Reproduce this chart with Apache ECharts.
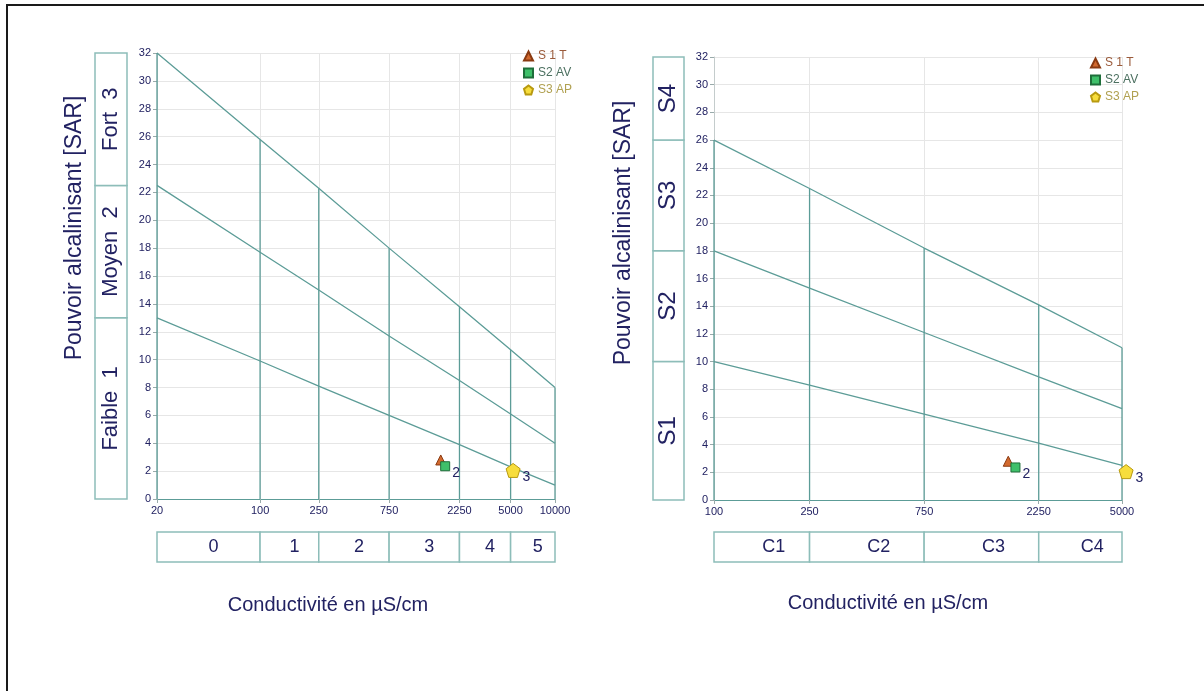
<!DOCTYPE html>
<html><head><meta charset="utf-8">
<script src="https://cdn.jsdelivr.net/npm/echarts@6/dist/echarts.min.js"></script>
<style>html,body{margin:0;padding:0;background:#fff}#c{width:1204px;height:691px}</style>
</head><body><div id="c"></div>
<script>
// ---------- data ----------
const seriesNames = ['S 1 T', 'S2 AV', 'S3 AP'];
const sampleCond = [1680, 1800, 5200];
const sampleSAR = [2.8, 2.35, 2.05];
const sampleTags = ['', '2', '3'];

// Left diagram
const leftTicks = [20, 100, 250, 750, 2250, 5000, 10000];
const leftLineTop = [32, 25.8, 22.3, 18.0, 13.8, 10.7, 8];
const leftLineMid = [22.5, 17.7, 15.0, 11.7, 8.5, 6.1, 4];
const leftLineLow = [13, 9.9, 8.1, 6.0, 3.9, 2.3, 1];
const leftSideBreaks = [0, 13, 22.5, 32];
const leftSideLabels = ['Faible  1', 'Moyen  2', 'Fort  3'];
const leftBottomLabels = ['0', '1', '2', '3', '4', '5'];

// Right diagram
const rightTicks = [100, 250, 750, 2250, 5000];
const rightLineTop = [26, 22.5, 18.2, 14.1, 11];
const rightLineMid = [18, 15.3, 12.1, 8.9, 6.6];
const rightLineLow = [10, 8.3, 6.2, 4.1, 2.5];
const rightSideBreaks = [0, 10, 18, 26, 32];
const rightSideLabels = ['S1', 'S2', 'S3', 'S4'];
const rightBottomLabels = ['C1', 'C2', 'C3', 'C4'];

const yTitle = 'Pouvoir alcalinisant [SAR]';
const xTitle = 'Conductivité en µS/cm';

// ---------- styles ----------
const L = Math.log10;
const FONT = '"Liberation Sans", Arial, sans-serif';
const TEAL = '#5c9c97';
const BOX = '#8dbdb9';
const NAVY = '#222262';
const GRID = '#e6e6e6';
const markStyles = [
  { symbol: 'triangle', size: 10, color: '#d2692e', border: '#8a3a12', text: '#9a5a3a' },
  { symbol: 'rect', size: 9, color: '#3fc06a', border: '#1e6e3a', text: '#4c7060' },
  { symbol: 'path://M50,0 L100,38 L81,100 L19,100 L0,38 Z', size: 14, color: '#f7dd3c', border: '#b89a10', text: '#b0a050' }
];

const grids = [];
const xAxes = [];
const yAxes = [];
const series = [];
const graphics = [];

function buildDiagram(cfg) {
  const gi = grids.length;
  grids.push({ left: cfg.left, width: cfg.width, top: cfg.top, height: cfg.height });
  grids.push({ left: cfg.sideLeft, width: cfg.sideWidth, top: cfg.top, height: cfg.height });
  grids.push({ left: cfg.left, width: cfg.width, top: cfg.bottomTop, height: cfg.bottomHeight });
  const lv = cfg.ticks.map(L);
  const xmin = lv[0], xmax = lv[lv.length - 1];
  const xi = xAxes.length, yi = yAxes.length;
  xAxes.push({
    gridIndex: gi, type: 'value', min: xmin, max: xmax,
    axisLine: { show: true, lineStyle: { color: TEAL, width: 1.2 } },
    axisTick: { show: true, customValues: lv, length: 4, lineStyle: { color: '#9aa' } },
    axisLabel: { customValues: lv, formatter: v => String(Math.round(Math.pow(10, v))), fontSize: 11, color: NAVY, fontFamily: FONT, margin: 6 },
    splitLine: { show: true, lineStyle: { color: GRID } }
  });
  yAxes.push({
    gridIndex: gi, type: 'value', min: 0, max: 32, interval: 2,
    axisLine: { show: true, lineStyle: { color: '#c4cccc' } },
    axisTick: { show: true, length: 4, lineStyle: { color: '#9aa' } },
    axisLabel: { fontSize: 11, color: NAVY, fontFamily: FONT, margin: 6 },
    splitLine: { show: true, lineStyle: { color: GRID } }
  });
  xAxes.push({ gridIndex: gi + 1, type: 'value', min: 0, max: 1, show: false });
  yAxes.push({ gridIndex: gi + 1, type: 'value', min: 0, max: 32, show: false });
  xAxes.push({ gridIndex: gi + 2, type: 'value', min: xmin, max: xmax, show: false });
  yAxes.push({ gridIndex: gi + 2, type: 'value', min: 0, max: 1, show: false });

  // axis titles
  graphics.push({ type: 'text', x: cfg.yTitlePos[0], y: cfg.yTitlePos[1], rotation: Math.PI / 2,
    style: { text: yTitle, fill: NAVY, fontSize: 23, fontFamily: FONT, align: 'center', verticalAlign: 'middle' } });
  graphics.push({ type: 'text', x: cfg.xTitlePos[0], y: cfg.xTitlePos[1],
    style: { text: xTitle, fill: NAVY, fontSize: 20, fontFamily: FONT, align: 'center', verticalAlign: 'middle' } });

  // diagonal lines
  [cfg.top3, cfg.mid3, cfg.low3].forEach(arr => {
    series.push({
      type: 'line', xAxisIndex: xi, yAxisIndex: yi, silent: true, symbol: 'none', z: 3,
      data: cfg.ticks.map((t, i) => [L(t), arr[i]]),
      lineStyle: { color: TEAL, width: 1.3 }
    });
  });
  // vertical class boundaries
  series.push({
    type: 'custom', xAxisIndex: xi, yAxisIndex: yi, silent: true, z: 3,
    data: cfg.ticks.map((t, i) => [L(t), cfg.top3[i]]),
    renderItem: (p, api) => {
      const a = api.coord([api.value(0), 0]);
      const b = api.coord([api.value(0), api.value(1)]);
      return { type: 'line', shape: { x1: a[0], y1: a[1], x2: b[0], y2: b[1] }, style: { stroke: TEAL, lineWidth: 1.3 } };
    }
  });
  // side boxes
  const sideData = cfg.sideLabels.map((s, i) => [cfg.sideBreaks[i], cfg.sideBreaks[i + 1]]);
  series.push({
    type: 'custom', xAxisIndex: xi + 1, yAxisIndex: yi + 1, silent: true,
    data: sideData,
    renderItem: (p, api) => {
      const p0 = api.coord([0, api.value(1)]);
      const p1 = api.coord([1, api.value(0)]);
      return { type: 'group', children: [
        { type: 'rect', shape: { x: p0[0], y: p0[1], width: p1[0] - p0[0], height: p1[1] - p0[1] }, style: { fill: '#fff', stroke: BOX, lineWidth: 1.5 } },
        { type: 'text', x: (p0[0] + p1[0]) / 2, y: (p0[1] + p1[1]) / 2, rotation: Math.PI / 2,
          style: { text: cfg.sideLabels[p.dataIndex], fill: NAVY, fontSize: cfg.sideFont, fontFamily: FONT, align: 'center', verticalAlign: 'middle' } }
      ] };
    }
  });
  // bottom boxes
  const botData = cfg.bottomLabels.map((s, i) => [L(cfg.ticks[i]), L(cfg.ticks[i + 1])]);
  series.push({
    type: 'custom', xAxisIndex: xi + 2, yAxisIndex: yi + 2, silent: true,
    data: botData,
    renderItem: (p, api) => {
      const p0 = api.coord([api.value(0), 1]);
      const p1 = api.coord([api.value(1), 0]);
      return { type: 'group', children: [
        { type: 'rect', shape: { x: p0[0], y: p0[1], width: p1[0] - p0[0], height: p1[1] - p0[1] }, style: { fill: '#fff', stroke: BOX, lineWidth: 1.5 } },
        { type: 'text', x: (p0[0] + p1[0]) / 2 + cfg.bottomShift, y: (p0[1] + p1[1]) / 2,
          style: { text: cfg.bottomLabels[p.dataIndex], fill: NAVY, fontSize: 18, fontFamily: FONT, align: 'center', verticalAlign: 'middle' } }
      ] };
    }
  });
  // samples
  seriesNames.forEach((n, k) => {
    const m = markStyles[k];
    series.push({
      type: 'scatter', name: n, xAxisIndex: xi, yAxisIndex: yi, z: 10, clip: false,
      data: [[L(sampleCond[k]), sampleSAR[k]]],
      symbol: m.symbol, symbolSize: m.size,
      itemStyle: { color: m.color, borderColor: m.border, borderWidth: 1, opacity: 1 },
      label: { show: sampleTags[k] !== '', formatter: sampleTags[k], position: 'right', offset: [-3, 7], color: NAVY, fontSize: 14, fontFamily: FONT }
    });
  });
}

buildDiagram({
  left: 157, width: 398, top: 53, height: 446,
  sideLeft: 95, sideWidth: 32, bottomTop: 532, bottomHeight: 30,
  ticks: leftTicks, top3: leftLineTop, mid3: leftLineMid, low3: leftLineLow,
  sideBreaks: leftSideBreaks, sideLabels: leftSideLabels, sideFont: 22,
  bottomLabels: leftBottomLabels, bottomShift: 5,
  yTitlePos: [75, 228], xTitlePos: [328, 605]
});
buildDiagram({
  left: 714, width: 408, top: 57, height: 443,
  sideLeft: 653, sideWidth: 31, bottomTop: 532, bottomHeight: 30,
  ticks: rightTicks, top3: rightLineTop, mid3: rightLineMid, low3: rightLineLow,
  sideBreaks: rightSideBreaks, sideLabels: rightSideLabels, sideFont: 24,
  bottomLabels: rightBottomLabels, bottomShift: 12,
  yTitlePos: [624, 233], xTitlePos: [888, 603]
});

const legendData = seriesNames.map((n, k) => ({ name: n, textStyle: { color: markStyles[k].text } }));
const legendBase = { orient: 'vertical', itemGap: 5, itemWidth: 9, itemHeight: 9, data: legendData,
  textStyle: { fontSize: 12, fontFamily: FONT }, selectedMode: false };

graphics.push({ type: 'line', shape: { x1: 6, y1: 5, x2: 1204, y2: 5 }, style: { stroke: '#1a1a1a', lineWidth: 2 } });
graphics.push({ type: 'line', shape: { x1: 7, y1: 5, x2: 7, y2: 691 }, style: { stroke: '#1a1a1a', lineWidth: 2 } });

const chart = echarts.init(document.getElementById('c'), null, { renderer: 'canvas' });
chart.setOption({
  animation: false,
  backgroundColor: '#fff',
  grid: grids, xAxis: xAxes, yAxis: yAxes, series: series,
  legend: [
    Object.assign({ left: 518, top: 45 }, legendBase),
    Object.assign({ left: 1085, top: 52 }, legendBase)
  ],
  graphic: graphics
});
</script></body></html>
